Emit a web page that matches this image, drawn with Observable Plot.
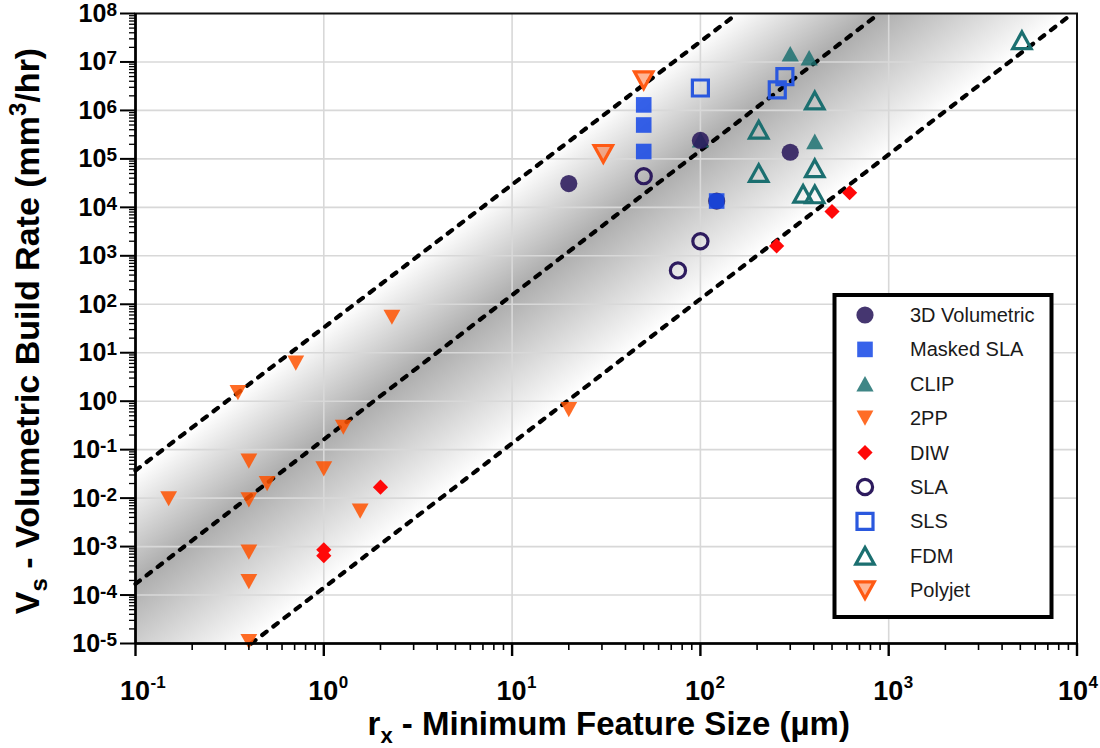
<!DOCTYPE html>
<html><head><meta charset="utf-8">
<script src="https://cdn.jsdelivr.net/npm/d3@7"></script>
<script src="https://cdn.jsdelivr.net/npm/@observablehq/plot@0.6"></script>
<style>
body{margin:0;background:#fff;}
#chart{position:relative;width:1100px;height:748px;}
</style>
</head><body><div id="chart"></div>
<script>
// ---------------- data ----------------
const seriesNames = ["3D Volumetric","Masked SLA","CLIP","2PP","DIW","SLA","SLS","FDM","Polyjet"];
// draw order (CLIP under 3D Volumetric, 3D Volumetric under Masked SLA)
const drawOrder = ["CLIP","3D Volumetric","Masked SLA","2PP","DIW","SLA","SLS","FDM","Polyjet"];

const volX = [20, 100, 300, 122];
const volY = [3.1e4, 2.4e5, 1.37e5, 1.35e4];
const maskedX = [50, 50, 50, 122];
const maskedY = [1.3e6, 5.0e5, 1.42e5, 1.35e4];
const clipX = [300, 378, 405, 100];
const clipY = [1.48e7, 1.22e7, 2.3e5, 2.5e5];
const twoPPX = [2.3, 0.71, 0.35, 20, 1.27, 0.40, 1.0, 0.50, 0.15, 0.40, 1.56, 0.40, 0.40, 0.40];
const twoPPY = [54, 6.1, 1.5, 0.67, 0.29, 0.058, 0.040, 0.020, 0.0097, 0.0092, 0.0054, 7.7e-4, 1.9e-4, 1.1e-5];
const diwX = [1.0, 1.0, 2.0, 254, 500, 620];
const diwY = [8.6e-4, 6.5e-4, 0.0168, 1.6e3, 8.2e3, 2.0e4];
const slaX = [50, 100, 76];
const slaY = [4.4e4, 2.0e3, 500];
const slsX = [100, 281, 256];
const slsY = [2.9e6, 5.0e6, 2.66e6];
const fdmX = [405, 204, 204, 405, 351, 405, 5100];
const fdmY = [1.6e6, 4.0e5, 5.1e4, 6.4e4, 1.9e4, 1.85e4, 2.8e7];
const polyX = [50, 30.5];
const polyY = [4.2e6, 1.27e5];

// guide lines: log10(Vs) = slope*log10(r) + logK
const guideSlopes = [2.95, 2.98, 2.98];
const guideLogK = [1.52, -0.79, -3.85];

// axis ticks
const xTicks = [0.1, 1, 10, 100, 1000, 10000];
const xTickExp = ["-1", "0", "1", "2", "3", "4"];
const yTicks = [1e-5, 1e-4, 1e-3, 1e-2, 1e-1, 1, 10, 100, 1e3, 1e4, 1e5, 1e6, 1e7, 1e8];
const yTickExp = ["-5","-4","-3","-2","-1","0","1","2","3","4","5","6","7","8"];

const xTitle = ["r", "x", " - Minimum Feature Size (µm)"];
const yTitle = ["V", "s", " - Volumetric Build Rate (mm", "3", "/hr)"];

// ---------------- styling ----------------
const seriesX = {"3D Volumetric": volX, "Masked SLA": maskedX, "CLIP": clipX, "2PP": twoPPX, "DIW": diwX, "SLA": slaX, "SLS": slsX, "FDM": fdmX, "Polyjet": polyX};
const seriesY = {"3D Volumetric": volY, "Masked SLA": maskedY, "CLIP": clipY, "2PP": twoPPY, "DIW": diwY, "SLA": slaY, "SLS": slsY, "FDM": fdmY, "Polyjet": polyY};
const styles = {
  "3D Volumetric": {shape: "circle", fill: "#2b1a5c", fillOpacity: 0.88, stroke: "none", sw: 0, r: 8.6},
  "Masked SLA": {shape: "square", fill: "#1446e6", fillOpacity: 0.85, stroke: "none", sw: 0, r: 7.8},
  "CLIP": {shape: "triUp", fill: "#1d7171", fillOpacity: 0.85, stroke: "none", sw: 0, r: 8.2},
  "2PP": {shape: "triDown", fill: "#ff5200", fillOpacity: 0.85, stroke: "none", sw: 0, r: 8},
  "DIW": {shape: "diamond", fill: "#ff0808", fillOpacity: 1, stroke: "none", sw: 0, r: 7.6},
  "SLA": {shape: "circle", fill: "none", fillOpacity: 1, stroke: "#2d1b5e", sw: 3.2, r: 7.6},
  "SLS": {shape: "square", fill: "none", fillOpacity: 1, stroke: "#2a58de", sw: 3.2, r: 8},
  "FDM": {shape: "triUp", fill: "none", fillOpacity: 1, stroke: "#1b6f70", sw: 3.2, r: 8.8},
  "Polyjet": {shape: "triDown", fill: "#ff5a14", fillOpacity: 0.45, stroke: "#ff5a14", sw: 3.2, r: 8.8}
};

function drawShape(ctx, shape, r) {
  if (shape === "circle") { ctx.moveTo(r, 0); ctx.arc(0, 0, r, 0, 2 * Math.PI); }
  else if (shape === "square") { ctx.moveTo(-r, -r); ctx.lineTo(r, -r); ctx.lineTo(r, r); ctx.lineTo(-r, r); ctx.closePath(); }
  else if (shape === "triUp") { const w = r * 1.05, h = r * 0.95; ctx.moveTo(0, -h); ctx.lineTo(w, h); ctx.lineTo(-w, h); ctx.closePath(); }
  else if (shape === "triDown") { const w = r * 1.05, h = r * 0.95; ctx.moveTo(0, h); ctx.lineTo(w, -h); ctx.lineTo(-w, -h); ctx.closePath(); }
  else if (shape === "diamond") { ctx.moveTo(0, -r); ctx.lineTo(r, 0); ctx.lineTo(0, r); ctx.lineTo(-r, 0); ctx.closePath(); }
}
function symbolOf(shape) {
  return {draw(ctx, size) { drawShape(ctx, shape, Math.sqrt(size / Math.PI)); }};
}

// ---------------- derived tables ----------------
const xMin = xTicks[0], xMax = xTicks[xTicks.length - 1];
const yMin = yTicks[0], yMax = yTicks[yTicks.length - 1];
const guideData = guideSlopes.map((s, i) => {
  const k = guideLogK[i];
  let lx0 = Math.log10(xMin), ly0 = s * lx0 + k;
  if (ly0 < Math.log10(yMin)) { ly0 = Math.log10(yMin); lx0 = (ly0 - k) / s; }
  let lx1 = Math.log10(xMax), ly1 = s * lx1 + k;
  if (ly1 > Math.log10(yMax)) { ly1 = Math.log10(yMax); lx1 = (ly1 - k) / s; }
  return [{g: i, x: 10 ** lx0, y: 10 ** ly0}, {g: i, x: 10 ** lx1, y: 10 ** ly1}];
}).flat();
const bandData = [xMin, xMax].map(x => ({
  x,
  hi: 10 ** (guideSlopes[0] * Math.log10(x) + guideLogK[0]),
  lo: 10 ** (guideSlopes[2] * Math.log10(x) + guideLogK[2])
}));

const xMinor = [], yMinor = [];
for (const d of xTicks.slice(0, -1)) for (let m = 2; m <= 9; m++) xMinor.push(d * m);
for (const d of yTicks.slice(0, -1)) for (let m = 2; m <= 9; m++) yMinor.push(d * m);

const dotMarks = drawOrder.map(name => {
  const st = styles[name];
  const pts = seriesX[name].map((x, i) => ({x, y: seriesY[name][i]}));
  return Plot.dot(pts, {
    x: "x", y: "y", r: st.r, symbol: symbolOf(st.shape),
    fill: st.fill, fillOpacity: st.fillOpacity, stroke: st.stroke, strokeWidth: st.sw
  });
});

const plot = Plot.plot({
  width: 1100, height: 748,
  marginLeft: 135, marginRight: 23.5, marginTop: 13, marginBottom: 105,
  x: {type: "log", domain: [xMin, xMax], axis: null},
  y: {type: "log", domain: [yMin, yMax], axis: null},
  style: {background: "white", overflow: "visible", fontFamily: "Liberation Sans, Arial, sans-serif"},
  marks: [
    Plot.areaY(bandData, {x: "x", y1: "lo", y2: "hi", fill: "url(#bandGrad)", clip: true}),
    Plot.ruleX(xTicks.slice(1, -1), {stroke: "#d8d8d8", strokeWidth: 1.6}),
    Plot.ruleY(yTicks.slice(1, -1), {stroke: "#d8d8d8", strokeWidth: 1.6}),
    Plot.line(guideData, {x: "x", y: "y", z: "g", stroke: "black", strokeWidth: 4.2, strokeDasharray: "5.5,8.5", strokeLinecap: "round"}),
    ...dotMarks,
    Plot.frame({stroke: "#111", strokeWidth: 2}),
    Plot.ruleY([yMin], {stroke: "black", strokeWidth: 2.6}),
    Plot.ruleX([xMin], {stroke: "black", strokeWidth: 2.6}),
    Plot.axisX({ticks: xMinor, tickSize: 7, tickFormat: () => "", label: null, stroke: "black", strokeWidth: 1.6, anchor: "bottom"}),
    Plot.axisX({ticks: xTicks, tickSize: 13, tickFormat: () => "", label: null, stroke: "black", strokeWidth: 2.4, anchor: "bottom"}),
    Plot.axisY({ticks: yMinor, tickSize: 6, tickFormat: () => "", label: null, stroke: "black", strokeWidth: 1.3, anchor: "left"}),
    Plot.axisY({ticks: yTicks, tickSize: 15, tickFormat: () => "", label: null, stroke: "black", strokeWidth: 2, anchor: "left"})
  ]
});
document.getElementById("chart").appendChild(plot);

// ---------------- gradient band, labels, legend ----------------
const sx = plot.scale("x"), sy = plot.scale("y");
const X = v => sx.apply(v), Y = v => sy.apply(v);
const svg = d3.select(plot);
const lineAt = (i, x) => 10 ** (guideSlopes[i] * Math.log10(x) + guideLogK[i]);
const Pu = [X(10), Y(lineAt(0, 10))];
const Pm = [X(10), Y(lineAt(1, 10))];
const Pl = [X(10), Y(lineAt(2, 10))];
let dir = [X(100) - X(10), Y(lineAt(1, 100)) - Y(lineAt(1, 10))];
const dl = Math.hypot(dir[0], dir[1]); dir = [dir[0] / dl, dir[1] / dl];
const nrm = [-dir[1], dir[0]];
const tL = (Pl[0] - Pu[0]) * nrm[0] + (Pl[1] - Pu[1]) * nrm[1];
const tM = (Pm[0] - Pu[0]) * nrm[0] + (Pm[1] - Pu[1]) * nrm[1];
const defs = svg.insert("defs", ":first-child");
const grad = defs.append("linearGradient").attr("id", "bandGrad").attr("gradientUnits", "userSpaceOnUse")
  .attr("x1", Pu[0]).attr("y1", Pu[1]).attr("x2", Pu[0] + tL * nrm[0]).attr("y2", Pu[1] + tL * nrm[1]);
grad.append("stop").attr("offset", 0).attr("stop-color", "#ffffff");
grad.append("stop").attr("offset", tM / tL).attr("stop-color", "#adadad");
grad.append("stop").attr("offset", 1).attr("stop-color", "#ffffff");

const lab = svg.append("g").attr("font-family", "Liberation Sans, Arial, sans-serif").attr("font-weight", "bold").attr("fill", "#000");
// x tick labels: "10" centred on the tick, exponent hanging to the right (kept inside the picture)
xTicks.forEach((v, i) => {
  const base = lab.append("text").attr("x", X(v)).attr("y", Y(yMin) + 57).attr("text-anchor", "middle").attr("font-size", 27).text("10");
  const w = base.node().getComputedTextLength();
  const ex = lab.append("text").attr("x", X(v) + w / 2 + 0.5).attr("y", Y(yMin) + 45).attr("text-anchor", "start").attr("font-size", 17).text(xTickExp[i]);
  const right = X(v) + w / 2 + 0.5 + ex.node().getComputedTextLength();
  const shift = Math.min(0, 1098 - right);
  if (shift < 0) {
    base.attr("x", X(v) + shift);
    ex.attr("x", X(v) + w / 2 + 0.5 + shift);
  }
});
// y tick labels
yTicks.forEach((v, i) => {
  const t = lab.append("text").attr("x", X(xMin) - 18).attr("y", Y(v) + 9).attr("text-anchor", "end").attr("font-size", 25);
  t.append("tspan").text("10");
  t.append("tspan").attr("dy", -6).attr("font-size", 19).text(yTickExp[i]);
});
// axis titles
{
  const t = lab.append("text").attr("x", (X(xMin) + X(xMax)) / 2 + 3).attr("y", 735).attr("text-anchor", "middle").attr("font-size", 33);
  t.append("tspan").text(xTitle[0]);
  t.append("tspan").attr("dy", 8).attr("font-size", 22).text(xTitle[1]);
  t.append("tspan").attr("dy", -8).text(xTitle[2]);
}
{
  const t = lab.append("text").attr("transform", `translate(39,${(Y(yMin) + Y(yMax)) / 2 + 3}) rotate(-90)`).attr("text-anchor", "middle").attr("font-size", 34);
  t.append("tspan").text(yTitle[0]);
  t.append("tspan").attr("dy", 8).attr("font-size", 24).text(yTitle[1]);
  t.append("tspan").attr("dy", -8).text(yTitle[2]);
  t.append("tspan").attr("dy", -13).attr("font-size", 24).text(yTitle[3]);
  t.append("tspan").attr("dy", 13).text(yTitle[4]);
}

// legend
const leg = svg.append("g").attr("font-family", "Liberation Sans, Arial, sans-serif");
leg.append("rect").attr("x", 834.5).attr("y", 295).attr("width", 217).attr("height", 322)
  .attr("fill", "white").attr("stroke", "black").attr("stroke-width", 4);
seriesNames.forEach((name, i) => {
  const st = styles[name];
  const cy = 315 + i * 34.4;
  const p = d3.path(); drawShape(p, st.shape, st.r);
  leg.append("path").attr("d", p.toString()).attr("transform", `translate(865,${cy})`)
    .attr("fill", st.fill).attr("fill-opacity", st.fillOpacity)
    .attr("stroke", st.stroke).attr("stroke-width", st.sw);
  leg.append("text").attr("x", 910).attr("y", cy + 7).attr("text-anchor", "start").attr("font-size", 20).attr("fill", "#1a1a1a").text(name);
});
</script>
</body></html>
